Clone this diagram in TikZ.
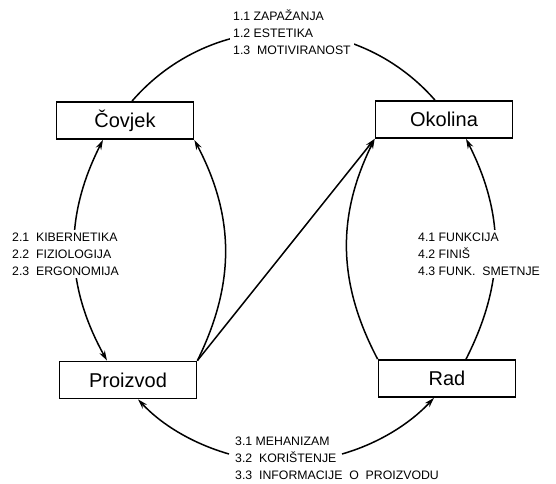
\documentclass[tikz,border=0pt]{standalone}
\usepackage{fontspec}
\setmainfont{Liberation Sans}
\usetikzlibrary{arrows.meta}

\begin{document}
\begin{tikzpicture}[x=1pt, y=1pt,
    box/.style={draw, line width=1.7pt, minimum width=137pt, minimum height=37pt,
                font=\fontsize{20}{22}\selectfont},
    arrow/.style={draw, line width=1.5pt, >={Stealth[length=10pt, width=6pt]}},
    popis/.style={align=left, inner sep=3pt, font=\fontsize{12.3}{17}\selectfont},
]
\useasboundingbox (0,0) rectangle (556,483);

% Cvorovi
\node[box] (covjek)   at (125, 362.5) {Čovjek};
\node[box] (okolina)  at (444, 363.5) {Okolina};
\node[box] (proizvod) at (128, 103)   {Proizvod};
\node[box] (rad)      at (447, 104.5) {Rad};

% Gornji luk: Covjek - Okolina
\draw[arrow] ([xshift=7pt]covjek.north) to[bend left=49, looseness=1.03] ([xshift=-9pt]okolina.north);

% Lijevo: Covjek - Proizvod
\draw[arrow, <->] ([xshift=-22pt]covjek.south) to[bend right=28] ([xshift=-21pt]proizvod.north);
\draw[arrow, ->] (proizvod.north east) to[bend right=27] (covjek.south east);

% Dijagonala
\draw[arrow, ->] (proizvod.north east) -- (okolina.south west);

% Desno: Rad - Okolina
\draw[arrow, ->] (rad.north west) to[bend left=27] (okolina.south west);
\draw[arrow, ->] ([xshift=19pt]rad.north) to[bend right=27] ([xshift=22pt]okolina.south);

% Donji luk: Proizvod - Rad (prekinut tekstom)
\coordinate (d1) at (229, 29);
\coordinate (d2) at (342, 29);
\draw[arrow, <-] ([xshift=10pt]proizvod.south) to[out=313, in=164, looseness=0.87] (d1);
\draw[arrow, ->] (d2) to[out=16, in=227, looseness=0.87] ([xshift=-13pt]rad.south);

% Oznake
\node[popis, fill=white, anchor=west] (zap) at (230, 451) {1.1 ZAPAŽANJA\\1.2 ESTETIKA\\1.3 \ MOTIVIRANOST};
\node[popis, fill=white, anchor=west] (kib) at (9, 229)   {2.1 \ KIBERNETIKA\\2.2 \ FIZIOLOGIJA\\2.3 \ ERGONOMIJA};
\node[popis, fill=white, anchor=west] (fun) at (415, 229) {4.1 FUNKCIJA\\4.2 FINIŠ\\4.3 FUNK. \ SMETNJE};
\node[popis, anchor=west] (meh) at (232, 25) {3.1 MEHANIZAM\\3.2 \ KORIŠTENJE\\3.3 \ INFORMACIJE \ O \ PROIZVODU};

\end{tikzpicture}
\end{document}
